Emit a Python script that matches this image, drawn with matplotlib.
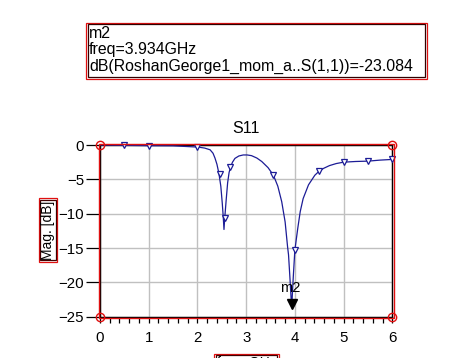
import matplotlib
matplotlib.use('Agg')
import matplotlib.pyplot as plt
from matplotlib.patches import Rectangle
from matplotlib.ticker import MultipleLocator

plt.rcParams['font.family'] = ['Liberation Sans', 'DejaVu Sans']

# S11 trace (GHz, dB)
freq_ghz = [0.0, 0.5, 1.0, 1.5, 2.0, 2.05, 2.15, 2.26, 2.32, 2.36, 2.40, 2.44, 2.48, 2.51,
            2.53, 2.545, 2.56, 2.59, 2.62, 2.65, 2.68, 2.72, 2.77, 2.85, 2.94, 3.02, 3.11,
            3.22, 3.32, 3.45, 3.56, 3.65, 3.73, 3.80, 3.85, 3.87, 3.90, 3.92, 3.935, 3.95,
            3.97, 4.00, 4.06, 4.11, 4.17, 4.28, 4.41, 4.50, 4.59, 4.71, 4.85, 5.0, 5.25,
            5.5, 5.75, 6.0]
mag_db = [0.0, -0.05, -0.1, -0.12, -0.3, -0.34, -0.45, -0.7, -1.2, -1.9, -2.8, -4.1, -6.0, -8.5,
          -10.5, -12.3, -10.7, -8.0, -5.5, -4.0, -3.2, -2.5, -1.95, -1.6, -1.45, -1.45, -1.55,
          -1.9, -2.4, -3.3, -4.4, -6.0, -8.25, -11.2, -14.8, -16.0, -19.5, -22.0, -23.7, -21.5,
          -18.9, -15.3, -12.1, -9.7, -7.8, -5.8, -4.4, -3.8, -3.4, -3.0, -2.7, -2.5, -2.4,
          -2.35, -2.2, -2.1]

# data points shown with open triangles
pt_freq = [0.5, 1.0, 2.0, 2.46, 2.56, 2.67, 3.56, 4.0, 4.5, 5.0, 5.5, 6.0]
pt_db = [-0.05, -0.1, -0.3, -4.2, -10.7, -3.2, -4.4, -15.3, -3.8, -2.5, -2.35, -2.1]

# marker m2
m2_freq = 3.934
m2_db = -23.084
m2_lines = ['m2', 'freq=3.934GHz', 'dB(RoshanGeorge1_mom_a..S(1,1))=-23.084']

x_ticks = [0, 1, 2, 3, 4, 5, 6]
y_ticks = [0, -5, -10, -15, -20, -25]

W, H = 457, 358


def fx(px):
    return px / W


def fy(py):
    return 1 - py / H


fig = plt.figure(figsize=(W / 100, H / 100), dpi=100)
fig.patch.set_facecolor('white')
ax = fig.add_axes([fx(100), fy(316.7), fx(392.3) - fx(100), fy(145) - fy(316.7)])

line_col = '#1c1c96'
ax.plot(freq_ghz, mag_db, color=line_col, lw=0.9, zorder=3)
ax.plot(pt_freq, pt_db, ls='none', marker='v', ms=4, mfc='white', mec=line_col, mew=0.9,
        zorder=4, clip_on=False)
ax.plot([m2_freq], [m2_db], ls='none', marker='v', ms=7, color='black', zorder=5)
ax.annotate('m2', xy=(m2_freq, m2_db), xytext=(-1, 11.5), textcoords='offset points',
            ha='center', va='center', fontsize=10.5, color='black', zorder=6)

ax.set_xlim(0, 6)
ax.set_ylim(-25, 0)
ax.set_xticks(x_ticks)
ax.set_yticks(y_ticks)
ax.xaxis.set_minor_locator(MultipleLocator(0.2))
ax.grid(True, which='major', color='#c0c0c0', lw=1.0)
ax.set_axisbelow(True)
ax.tick_params(axis='x', which='both', direction='out', length=4, width=0.9, pad=6, labelsize=10.8)
ax.tick_params(axis='y', which='major', direction='out', length=10, width=0.9, pad=1.5, labelsize=10.8)
ax.tick_params(axis='y', which='minor', left=False)
for s in ax.spines.values():
    s.set_color('black')
    s.set_linewidth(1.0)

ax.set_title('S11', fontsize=11.5, pad=9)

# red selection frame with corner handles
dx = 1.2 / (392.3 - 100)
dy = 1.2 / (316.7 - 145)
ax.add_patch(Rectangle((-dx, -dy), 1 + 2 * dx, 1 + 2 * dy, transform=ax.transAxes,
                       fill=False, ec='#e01010', lw=1.0, clip_on=False, zorder=7))
ax.plot([0, 1, 0, 1], [0, 0, 1, 1], transform=ax.transAxes, ls='none', marker='o', ms=6,
        mfc='none', mec='#e01010', mew=1.0, clip_on=False, zorder=8)

# y label with double border
ylab_x, ylab_y = fx(48), fy(230)
fig.text(ylab_x, ylab_y, 'Mag. [dB]', rotation=90, ha='center', va='center', fontsize=10,
         color='none', bbox=dict(boxstyle='square,pad=0.16', fc='none', ec='#e01010', lw=0.9))
fig.text(ylab_x, ylab_y, 'Mag. [dB]', rotation=90, ha='center', va='center', fontsize=10,
         color='black', bbox=dict(boxstyle='square,pad=0.05', fc='white', ec='#400000', lw=0.9))

# x label box, cut off at the bottom edge as in the source image
xlab_x, xlab_y = fx(246.5), fy(356)
fig.text(xlab_x, xlab_y, 'freq, GHz', ha='center', va='top', fontsize=10, color='none',
         bbox=dict(boxstyle='square,pad=0.16', fc='none', ec='#e01010', lw=0.9))
fig.text(xlab_x, xlab_y, 'freq, GHz', ha='center', va='top', fontsize=10, color='black',
         bbox=dict(boxstyle='square,pad=0.05', fc='white', ec='#400000', lw=0.9))

# marker readout box at the top
fig.add_artist(Rectangle((fx(86), fy(78.7)), fx(426.7) - fx(86), fy(22.7) - fy(78.7),
                         transform=fig.transFigure, fill=False, ec='#e01010', lw=0.9))
fig.add_artist(Rectangle((fx(87.5), fy(77.3)), fx(425.3) - fx(87.5), fy(24.2) - fy(77.3),
                         transform=fig.transFigure, fill=False, ec='#300000', lw=0.9))
for txt, base in zip(m2_lines, [37.5, 54.3, 71.0]):
    fig.text(fx(89), fy(base), txt, ha='left', va='baseline', fontsize=11.4, color='black')

fig.savefig('out.png', dpi=100)
